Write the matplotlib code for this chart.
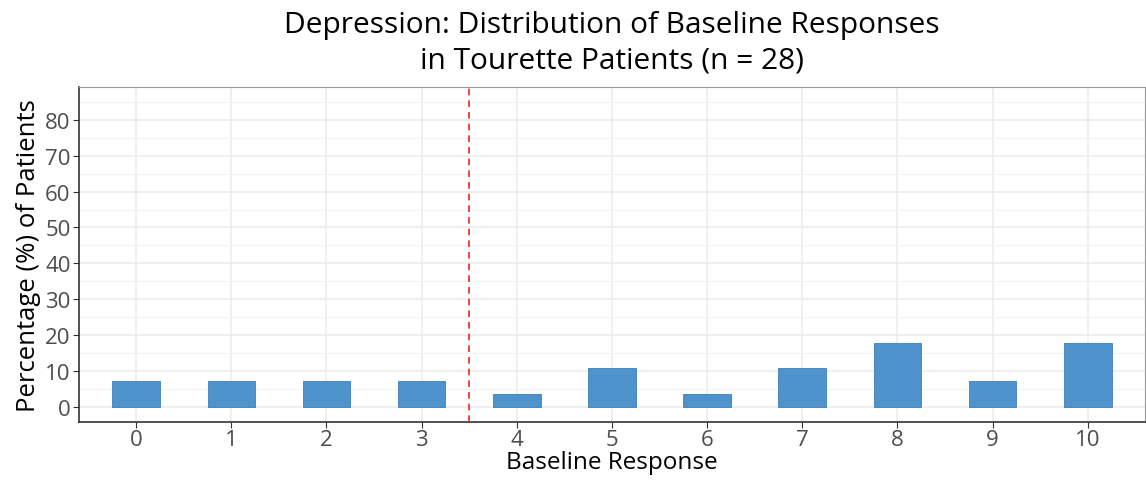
import numpy as np
import matplotlib
matplotlib.use("Agg")
import matplotlib.pyplot as plt
from matplotlib.ticker import MultipleLocator

plt.rcParams['font.family'] = ['Open Sans', 'DejaVu Sans']

responses = [0, 1, 2, 3, 4, 5, 6, 7, 8, 9, 10]
counts = [2, 2, 2, 2, 1, 3, 1, 3, 5, 2, 5]
n_patients = 28
percent = [c / n_patients * 100 for c in counts]

fig = plt.figure(figsize=(11.46, 4.85), dpi=100)
ax = fig.add_axes([0.069, 0.128, 0.93, 0.691])

ax.bar(responses, percent, width=0.5, color='#4f93cd', edgecolor='#3f7fb8', linewidth=0.6, zorder=3)
ax.axvline(3.5, color='#e8262b', linestyle=(0, (4, 3)), linewidth=1.2, zorder=4)

ax.set_xlim(-0.6, 10.6)
ax.set_ylim(-4.25, 89.25)
ax.set_xticks(responses)
ax.set_yticks(np.arange(0, 81, 10))
ax.yaxis.set_minor_locator(MultipleLocator(5))

ax.grid(which='major', color='#ebebeb', linewidth=1.1, zorder=0)
ax.grid(which='minor', axis='y', color='#f3f3f3', linewidth=0.8, zorder=0)
ax.tick_params(which='minor', length=0)
ax.tick_params(which='major', labelsize=16, labelcolor='#4d4d4d', color='#333333', length=4, pad=2)
ax.tick_params(axis='x', pad=1)

for side in ['top', 'right']:
    ax.spines[side].set_color('#999999')
    ax.spines[side].set_linewidth(0.8)
for side in ['left', 'bottom']:
    ax.spines[side].set_color('#333333')
    ax.spines[side].set_linewidth(1.2)

ax.set_xlabel('Baseline Response', fontsize=17.5, labelpad=0)
ax.set_ylabel('Percentage (%) of Patients', fontsize=18.5, labelpad=3)
ax.set_title('Depression: Distribution of Baseline Responses\nin Tourette Patients (n = 28)',
             fontsize=21.5, pad=14, linespacing=1.3)

fig.savefig('out.png', dpi=100)
